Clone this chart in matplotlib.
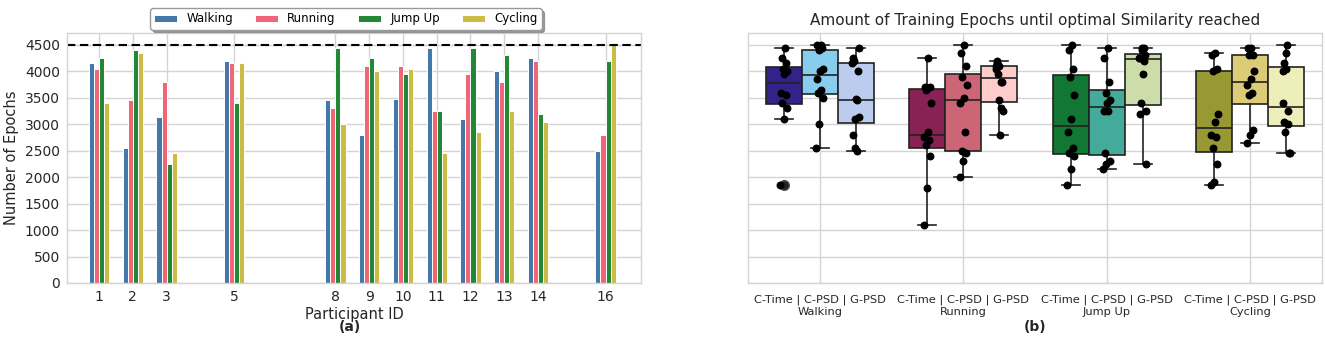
import numpy as np
import matplotlib
matplotlib.use("Agg")
import matplotlib.pyplot as plt

# ---------------- data ----------------
participants = [1, 2, 3, 5, 8, 9, 10, 11, 12, 13, 14, 16]
activities = ["Walking", "Running", "Jump Up", "Cycling"]
methods = ["C-Time", "C-PSD", "G-PSD"]

walking = [4150, 2550, 3130, 4200, 3450, 2800, 3480, 4450, 3100, 4000, 4250, 2500]
running = [4050, 3450, 3800, 4150, 3300, 4100, 4100, 3250, 3950, 3800, 4200, 2800]
jump_up = [4250, 4400, 2250, 3400, 4450, 4250, 3950, 3250, 4450, 4300, 3200, 4200]
cycling = [3400, 4350, 2450, 4150, 3000, 4000, 4050, 2450, 2850, 3250, 3050, 4500]
max_epochs = 4500

# C-Time / C-PSD results per activity (G-PSD equals the bar-chart values)
walking_ctime = [1850, 3100, 3300, 3400, 3550, 3600, 3950, 4000, 4050, 4150, 4250, 4450]
walking_cpsd = [2550, 3000, 3500, 3600, 3650, 3850, 4000, 4050, 4400, 4450, 4500, 4500]
running_ctime = [1100, 1800, 2400, 2600, 2700, 2750, 2850, 3400, 3650, 3700, 3700, 4250]
running_cpsd = [2000, 2300, 2450, 2500, 2850, 3400, 3500, 3750, 3900, 4100, 4350, 4500]
jump_ctime = [1850, 2150, 2400, 2450, 2550, 2850, 3100, 3550, 3900, 4050, 4400, 4500]
jump_cpsd = [2150, 2250, 2300, 2450, 3250, 3250, 3400, 3450, 3600, 3800, 4250, 4450]
cycling_ctime = [1850, 1900, 2250, 2550, 2750, 2800, 3050, 3200, 4000, 4050, 4300, 4350]
cycling_cpsd = [2650, 2800, 2900, 3550, 3600, 3750, 3850, 4000, 4300, 4300, 4450, 4450]

bar_series = [walking, running, jump_up, cycling]
bar_colors = ["#4477AA", "#EE6677", "#228833", "#CCBB44"]

box_data = [
    [walking_ctime, walking_cpsd, walking],
    [running_ctime, running_cpsd, running],
    [jump_ctime, jump_cpsd, jump_up],
    [cycling_ctime, cycling_cpsd, cycling],
]
box_colors = [
    ["#332288", "#88CCEE", "#BBCCEE"],
    ["#882255", "#CC6677", "#FFCCCC"],
    ["#117733", "#44AA99", "#CCDDAA"],
    ["#999933", "#DDCC77", "#EEEEBB"],
]

# ---------------- style ----------------
plt.rcParams["font.family"] = ["DejaVu Sans"]
grid_c = "#d4d4d4"
text_c = "#262626"

fig = plt.figure(figsize=(13.25, 3.39), dpi=100)
ax1 = fig.add_axes([67 / 1325, 1 - 283 / 339, (641 - 67) / 1325, (283 - 33) / 339])
ax2 = fig.add_axes([748 / 1325, 1 - 283 / 339, (1322 - 748) / 1325, (283 - 33) / 339])

for ax in (ax1, ax2):
    ax.set_facecolor("white")
    ax.set_axisbelow(True)
    ax.grid(True, color=grid_c, linewidth=1.0)
    for s in ax.spines.values():
        s.set_color(grid_c)
        s.set_linewidth(1.0)
    ax.tick_params(length=0, colors=text_c, labelsize=10, pad=5)
    ax.set_ylim(0, 4725)
    ax.set_yticks(np.arange(0, 4501, 500))

# ---------------- left: bars ----------------
x = np.array(participants, dtype=float)
w = 0.15
offsets = [-1.5 * w, -0.5 * w, 0.5 * w, 1.5 * w]
for vals, col, off, name in zip(bar_series, bar_colors, offsets, activities):
    ax1.bar(x + off, vals, width=w, color=col, edgecolor="white", linewidth=0.7, label=name)
ax1.axhline(max_epochs, color="black", linestyle="--", linewidth=1.5, dashes=(4, 2.2))
ax1.set_xticks(participants)
ax1.set_xticklabels([str(p) for p in participants])
ax1.set_xlim(0.05, 17.05)
ax1.set_xlabel("Participant ID", fontsize=10.5, color=text_c, labelpad=2)
ax1.set_ylabel("Number of Epochs", fontsize=10.5, color=text_c, labelpad=4)
leg = ax1.legend(loc="lower center", bbox_to_anchor=(0.486, 0.99), ncol=4, fontsize=8.5,
                 frameon=True, shadow=True, fancybox=True, handlelength=1.9,
                 handletextpad=0.8, columnspacing=1.9, borderpad=0.35, handleheight=0.6)
leg.get_frame().set_edgecolor("#999999")

# ---------------- right: boxplots ----------------
bw = 0.25
for gi, (group, cols) in enumerate(zip(box_data, box_colors)):
    for mi, (vals, col) in enumerate(zip(group, cols)):
        pos = gi + (mi - 1) * bw
        ax2.boxplot([vals], positions=[pos], widths=bw, patch_artist=True,
                    boxprops=dict(facecolor=col, edgecolor="#222222", linewidth=1.2),
                    medianprops=dict(color="#222222", linewidth=1.2),
                    whiskerprops=dict(color="#222222", linewidth=1.2),
                    capprops=dict(color="#222222", linewidth=1.2),
                    flierprops=dict(marker="o", markerfacecolor="#222222",
                                    markeredgecolor="#555555", markersize=7),
                    manage_ticks=False)
        n = len(vals)
        jit = (((np.arange(n) * 5) % n) / (n - 1) - 0.5) * 0.05
        ax2.scatter(pos + jit, vals, s=22, color="black", zorder=5)

ax2.set_xlim(-0.5, 3.5)
ax2.set_xticks(range(len(activities)))
ax2.set_xticklabels([" | ".join(methods) + "\n" + a for a in activities], fontsize=8.2,
                    linespacing=1.25)
ax2.tick_params(axis="x", pad=8)
ax2.set_yticklabels([])
ax2.set_title("Amount of Training Epochs until optimal Similarity reached",
              fontsize=11, color=text_c, pad=6)

fig.text(350 / 1325, 1 - 327 / 339, "(a)", ha="center", va="center", fontsize=10,
         fontweight="bold", color=text_c)
fig.text(1035 / 1325, 1 - 327 / 339, "(b)", ha="center", va="center", fontsize=10,
         fontweight="bold", color=text_c)

fig.savefig("out.png", dpi=100, facecolor="white")
